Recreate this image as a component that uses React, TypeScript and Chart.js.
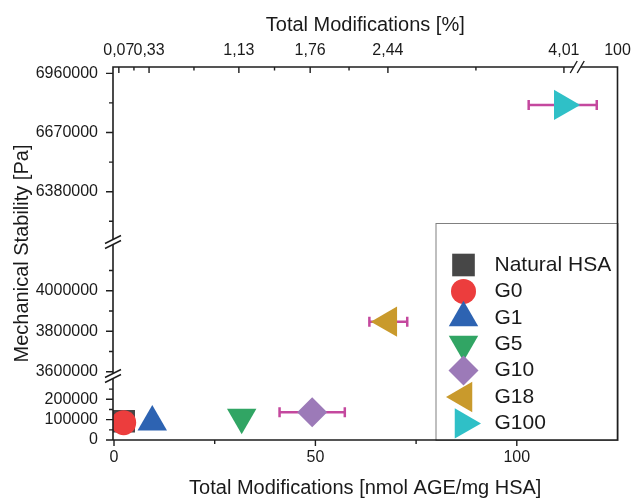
import React, { useEffect, useRef } from 'react';
import { Chart, registerables } from 'chart.js';
import { drawPoint } from 'chart.js/helpers';

Chart.register(...registerables);

// ---------- data ----------
const categories = ['Natural HSA', 'G0', 'G1', 'G5', 'G10', 'G18', 'G100'];
const xValues = [2.4, 2.4, 9.5, 31.7, 49.2, 68.1, 111.4];
const yValues = [92000, 85000, 88000, 112000, 136000, 3847000, 6805000];
const xErrors = [0, 0, 0, 0, 8.1, 4.7, 8.45];
const segmentOf = ['yBot', 'yBot', 'yBot', 'yBot', 'yBot', 'yMid', 'yTop'];

const xTicks = [0, 50, 100];
const xMinorTicks = [25, 75];
const topTickValues = [1.2, 8.7, 31.0, 48.7, 68.0, 111.7, 125];
const topTickLabels = ['0,07', '0,33', '1,13', '1,76', '2,44', '4,01', '100'];
const yTopTicks = [6380000, 6670000, 6960000];
const yTopMinor = [6235000, 6525000, 6815000];
const yMidTicks = [3600000, 3800000, 4000000];
const yMidMinor = [3700000, 3900000, 4100000];
const yBotTicks = [0, 100000, 200000];
const yBotMinor = [50000, 150000, 250000];

const yTopRange = [6133500, 6991000];
const yMidRange = [3578800, 4240500];
const yBotRange = [0, 314500];
const xRange = [-0.25, 125];
const topBreakValue = 115;

// ---------- styles ----------
const colors = ['#474747', '#ec3d3d', '#2d63b2', '#31a564', '#9c7ab8', '#c99a2c', '#2fc0c7'];
const pointStyles = ['rect', 'circle', 'triangle', 'triangle', 'rectRot', 'triangle', 'triangle'];
const pointRotations = [0, 0, 0, 180, 0, 270, 90];
const pointRadii = [16, 12.5, 17, 17, 15, 17.5, 17.5];
const errorColor = '#c4489e';
const textColor = '#1a1a1a';
const axisColor = '#1e1e1e';
const fontFamily = "'Liberation Sans', Arial, Helvetica, sans-serif";

Chart.defaults.font.family = fontFamily;
Chart.defaults.color = textColor;

function segScale(range: number[], weight: number, ticks: number[]) {
  return {
    type: 'linear',
    axis: 'y',
    position: 'left',
    stack: 'y',
    stackWeight: weight,
    min: range[0],
    max: range[1],
    bounds: 'data',
    grid: { display: false, drawTicks: false, tickLength: 0 },
    border: { display: false },
    afterBuildTicks: (s: any) => {
      s.ticks = ticks.map((v) => ({ value: v }));
    },
    afterFit: (s: any) => {
      s.width = 78;
      s.paddingTop = 0;
      s.paddingBottom = 0;
    },
    ticks: {
      padding: 15,
      autoSkip: false,
      font: { size: 16 },
      color: textColor,
      callback: (v: any) => String(v),
    },
  };
}

const errorBarPlugin = {
  id: 'errorBars',
  beforeDatasetsDraw(chart: any) {
    const ctx = chart.ctx;
    const xs = chart.scales.x;
    ctx.save();
    ctx.strokeStyle = errorColor;
    ctx.lineWidth = 2.5;
    categories.forEach((_, i) => {
      if (!xErrors[i]) return;
      const ys = chart.scales[segmentOf[i]];
      const y = ys.getPixelForValue(yValues[i]);
      const x0 = xs.getPixelForValue(xValues[i] - xErrors[i]);
      const x1 = xs.getPixelForValue(xValues[i] + xErrors[i]);
      ctx.beginPath();
      ctx.moveTo(x0, y);
      ctx.lineTo(x1, y);
      ctx.moveTo(x0, y - 5);
      ctx.lineTo(x0, y + 5);
      ctx.moveTo(x1, y - 5);
      ctx.lineTo(x1, y + 5);
      ctx.stroke();
    });
    ctx.restore();
  },
};

const framePlugin = {
  id: 'frameLegend',
  afterDatasetsDraw(chart: any) {
    const ctx = chart.ctx;
    const ca = chart.chartArea;
    const { left, right, top, bottom } = ca;

    // legend box
    const lx = right - 182;
    const ly = bottom - 217;
    ctx.save();
    ctx.fillStyle = '#ffffff';
    ctx.fillRect(lx, ly, right - lx, bottom - ly);
    ctx.strokeStyle = '#808080';
    ctx.lineWidth = 1;
    ctx.strokeRect(lx + 0.5, ly + 0.5, right - lx, bottom - ly);
    categories.forEach((name, i) => {
      const y = ly + 42 + i * 26.4;
      ctx.fillStyle = colors[i];
      drawPoint(
        ctx,
        { pointStyle: pointStyles[i], radius: pointRadii[i], rotation: pointRotations[i], borderWidth: 0 } as any,
        lx + 28,
        y
      );
      ctx.fillStyle = textColor;
      ctx.font = `21px ${fontFamily}`;
      ctx.textBaseline = 'middle';
      ctx.textAlign = 'left';
      ctx.fillText(name, lx + 59, y);
    });
    ctx.restore();

    // frame
    ctx.save();
    ctx.strokeStyle = axisColor;
    ctx.lineWidth = 1.6;
    ctx.beginPath();
    ctx.moveTo(left, bottom);
    ctx.lineTo(left, top);
    ctx.lineTo(right, top);
    ctx.lineTo(right, bottom);
    ctx.lineTo(left, bottom);
    ctx.stroke();

    // ticks
    ctx.lineWidth = 1.4;
    ctx.beginPath();
    const xs = chart.scales.x;
    xTicks.forEach((v) => {
      const p = xs.getPixelForValue(v);
      ctx.moveTo(p, bottom);
      ctx.lineTo(p, bottom + 6);
    });
    xMinorTicks.forEach((v) => {
      const p = xs.getPixelForValue(v);
      ctx.moveTo(p, bottom);
      ctx.lineTo(p, bottom + 4);
    });
    const x2 = chart.scales.x2;
    for (let i = 0; i < topTickValues.length - 1; i++) {
      const p = x2.getPixelForValue(topTickValues[i]);
      ctx.moveTo(p, top);
      ctx.lineTo(p, top + 6);
    }
    for (let i = 0; i < topTickValues.length - 2; i++) {
      const p = x2.getPixelForValue((topTickValues[i] + topTickValues[i + 1]) / 2);
      ctx.moveTo(p, top);
      ctx.lineTo(p, top + 3.5);
    }
    const segs: [string, number[], number[]][] = [
      ['yTop', yTopTicks, yTopMinor],
      ['yMid', yMidTicks, yMidMinor],
      ['yBot', yBotTicks, yBotMinor],
    ];
    segs.forEach(([id, maj, min]) => {
      const s = chart.scales[id];
      maj.forEach((v) => {
        const p = s.getPixelForValue(v);
        ctx.moveTo(left, p);
        ctx.lineTo(left - 7, p);
      });
      min.forEach((v) => {
        const p = s.getPixelForValue(v);
        ctx.moveTo(left, p);
        ctx.lineTo(left - 4, p);
      });
    });
    ctx.stroke();

    // breaks on left axis
    const breaksY = [chart.scales.yTop.bottom, chart.scales.yMid.bottom];
    breaksY.forEach((b) => {
      const hw = 8, hr = 4, d = 2.5;
      ctx.fillStyle = '#ffffff';
      ctx.beginPath();
      ctx.moveTo(left - hw, b - d + hr);
      ctx.lineTo(left + hw, b - d - hr);
      ctx.lineTo(left + hw, b + d - hr);
      ctx.lineTo(left - hw, b + d + hr);
      ctx.closePath();
      ctx.fill();
      ctx.beginPath();
      [-d, d].forEach((o) => {
        ctx.moveTo(left - hw, b + o + hr);
        ctx.lineTo(left + hw, b + o - hr);
      });
      ctx.stroke();
    });
    // break on top axis
    const bx = x2.getPixelForValue(topBreakValue);
    {
      const hw = 3.5, hh = 6, d = 3.5;
      ctx.fillStyle = '#ffffff';
      ctx.beginPath();
      ctx.moveTo(bx - d - hw, top + hh);
      ctx.lineTo(bx - d + hw, top - hh);
      ctx.lineTo(bx + d + hw, top - hh);
      ctx.lineTo(bx + d - hw, top + hh);
      ctx.closePath();
      ctx.fill();
      ctx.beginPath();
      [-d, d].forEach((o) => {
        ctx.moveTo(bx + o - hw, top + hh);
        ctx.lineTo(bx + o + hw, top - hh);
      });
      ctx.stroke();
    }
    ctx.restore();
  },
};

export default function App() {
  const ref = useRef<HTMLCanvasElement | null>(null);

  useEffect(() => {
    if (!ref.current) return;
    const datasets = categories.map((name, i) => ({
      label: name,
      data: [{ x: xValues[i], y: yValues[i] }],
      xAxisID: 'x',
      yAxisID: segmentOf[i],
      backgroundColor: colors[i],
      borderColor: colors[i],
      pointStyle: pointStyles[i],
      pointRadius: pointRadii[i],
      pointRotation: pointRotations[i],
      pointBorderWidth: 0,
      pointHoverRadius: pointRadii[i],
      showLine: false,
      order: i === 0 ? 1 : 0,
    }));

    const chart = new Chart(ref.current, {
      type: 'scatter',
      data: { datasets },
      options: {
        responsive: false,
        animation: false,
        events: [],
        layout: { padding: { left: 5, top: 9, right: 15, bottom: 0 } },
        plugins: { legend: { display: false }, tooltip: { enabled: false } },
        scales: {
          x: {
            type: 'linear',
            position: 'bottom',
            min: xRange[0],
            max: xRange[1],
            bounds: 'data',
            grid: { display: false, drawTicks: false, tickLength: 0 },
            border: { display: false },
            afterBuildTicks: (s: any) => {
              s.ticks = xTicks.map((v) => ({ value: v }));
            },
            afterFit: (s: any) => {
              s.height = 60;
              s.paddingLeft = 0;
              s.paddingRight = 0;
            },
            ticks: { padding: 8, font: { size: 16 }, color: textColor, maxRotation: 0, autoSkip: false },
            title: {
              display: true,
              text: 'Total Modifications [nmol AGE/mg HSA]',
              font: { size: 20 },
              color: textColor,
              padding: { top: 0, bottom: 0 },
            },
          },
          x2: {
            type: 'linear',
            axis: 'x',
            position: 'top',
            min: xRange[0],
            max: xRange[1],
            bounds: 'data',
            grid: { display: false, drawTicks: false, tickLength: 0 },
            border: { display: false },
            afterBuildTicks: (s: any) => {
              s.ticks = topTickValues.map((v) => ({ value: v }));
            },
            afterFit: (s: any) => {
              s.height = 58;
              s.paddingLeft = 0;
              s.paddingRight = 0;
            },
            ticks: {
              padding: 7,
              font: { size: 16 },
              color: textColor,
              maxRotation: 0,
              minRotation: 0,
              autoSkip: false,
              callback: (_v: any, idx: number) => topTickLabels[idx],
            },
            title: {
              display: true,
              text: 'Total Modifications [%]',
              font: { size: 20 },
              color: textColor,
              padding: { top: 4, bottom: 4 },
            },
          },
          yTitle: {
            type: 'linear',
            axis: 'y',
            position: 'left',
            weight: 10,
            grid: { display: false, drawTicks: false, tickLength: 0 },
            border: { display: false },
            ticks: { display: false },
            afterFit: (s: any) => {
              s.width = 30;
              s.paddingTop = 0;
              s.paddingBottom = 0;
            },
            title: {
              display: true,
              text: 'Mechanical Stability [Pa]',
              font: { size: 20 },
              color: textColor,
              padding: { top: 5, bottom: 4 },
            },
          },
          yBot: segScale(yBotRange, 64, yBotTicks),
          yMid: segScale(yMidRange, 134, yMidTicks),
          yTop: segScale(yTopRange, 175, yTopTicks),
        } as any,
      },
      plugins: [errorBarPlugin, framePlugin],
    } as any);

    return () => chart.destroy();
  }, []);

  return (
    <div style={{ position: 'fixed', left: 0, top: 0, width: 635, height: 500, background: '#fff' }}>
      <canvas ref={ref} width={635} height={500} style={{ display: 'block' }} />
    </div>
  );
}
